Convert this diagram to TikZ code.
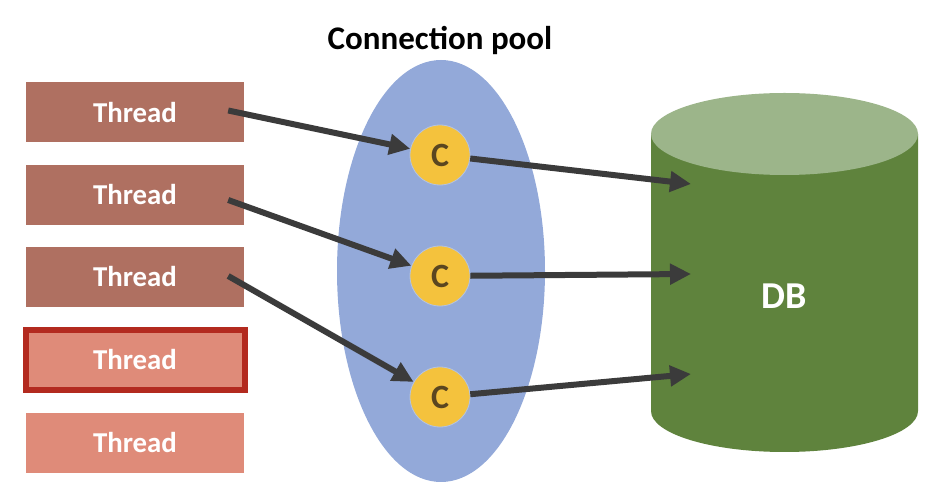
\documentclass[tikz,border=0pt]{standalone}
\usepackage{fontspec}
\setmainfont{Carlito}
\usetikzlibrary{arrows.meta,calc}
\definecolor{thrDark}{HTML}{AF7061}
\definecolor{thrLight}{HTML}{DF8B79}
\definecolor{thrBorder}{HTML}{B32A1F}
\definecolor{poolBlue}{HTML}{93A9D9}
\definecolor{coinYellow}{HTML}{F4C23D}
\definecolor{coinText}{HTML}{5A4620}
\definecolor{dbBody}{HTML}{5F833D}
\definecolor{dbTop}{HTML}{9CB58A}
\definecolor{arrowGray}{HTML}{3B3B3B}
\begin{document}
\begin{tikzpicture}[x=1pt,y=-1pt,
  thread/.style={rectangle, minimum width=218pt, minimum height=60pt, inner sep=0pt,
    text=white, font=\fontsize{28.8}{30}\selectfont\bfseries},
  threadbusy/.style={thread, fill=thrDark},
  threadfree/.style={thread, fill=thrLight},
  coin/.style={circle, fill=coinYellow, draw=poolBlue!70!white, line width=0.8pt,
    minimum size=60pt, inner sep=0pt, text=coinText,
    font=\fontsize{34}{35}\selectfont\bfseries},
  link/.style={draw=arrowGray, line width=6pt,
    -{Triangle[length=21pt,width=20pt]}}]
\useasboundingbox (0,0) rectangle (946,502);
% connection pool
\fill[poolBlue] (441,271) ellipse [x radius=104, y radius=211];
\node[font=\fontsize{33}{34}\selectfont\bfseries] (title) at (440,40) {Connection pool};
% threads
\node[threadbusy] (t1) at (135,112.5) {Thread};
\node[threadbusy] (t2) at (135,195) {Thread};
\node[threadbusy] (t3) at (135,277) {Thread};
\node[threadfree, draw=thrBorder, line width=6pt, minimum width=219pt] (t4) at (135,360) {Thread};
\node[threadfree] (t5) at (135,443) {Thread};
% database
\fill[dbBody] (651,134) -- (651,411) arc[start angle=180, end angle=0, x radius=133.5, y radius=41] -- (918,134) -- cycle;
\fill[dbTop] (784.5,134) ellipse [x radius=133.5, y radius=41];
\node[text=white, font=\fontsize{38}{40}\selectfont\bfseries] (db) at (784.5,296) {DB};
% connections
\node[coin] (c1) at (440,155) {C};
\node[coin] (c2) at (440,276) {C};
\node[coin] (c3) at (440,397) {C};
% arrow end points
\coordinate (s1) at ([xshift=-16pt,yshift=2pt]t1.east);
\coordinate (s2) at ([xshift=-16pt,yshift=-5pt]t2.east);
\coordinate (s3) at ([xshift=-16pt,yshift=1pt]t3.east);
\coordinate (d1) at (691,184);
\coordinate (d2) at (691,274);
\coordinate (d3) at (691,374);
\draw[link] (s1) -- (c1);
\draw[link] (s2) -- (c2);
\draw[link] (s3) -- (c3);
\draw[link] (c1) -- (d1);
\draw[link] (c2) -- (d2);
\draw[link] (c3) -- (d3);
\end{tikzpicture}
\end{document}
